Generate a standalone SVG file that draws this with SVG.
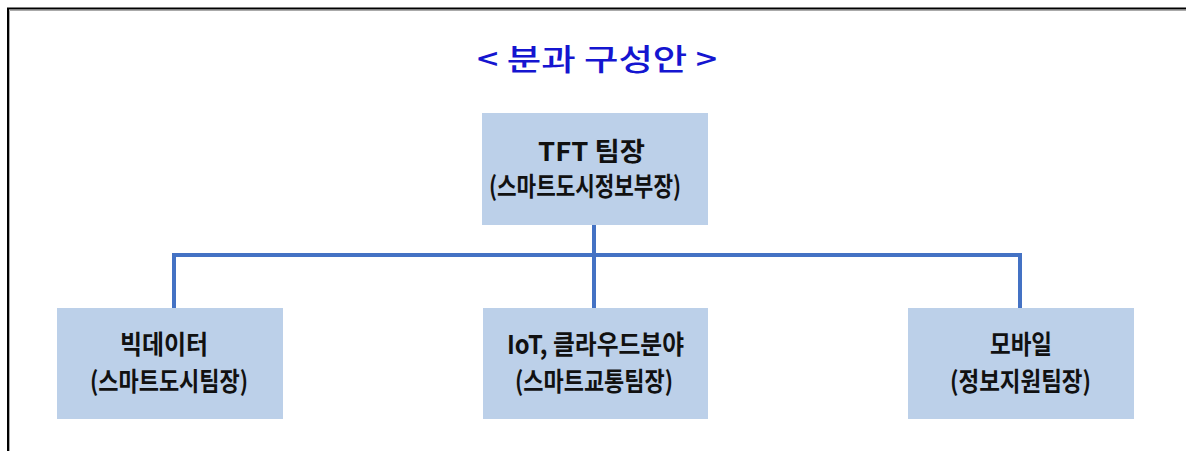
<svg xmlns="http://www.w3.org/2000/svg" width="1186" height="451" viewBox="0 0 1186 451">
<style>
.box{fill:#BCD0E9;}
.t{font-family:"Noto Sans CJK KR","Noto Sans",sans-serif;font-weight:bold;font-size:26px;fill:#111;}
.title{font-family:"Noto Sans CJK KR","Noto Sans",sans-serif;font-size:30px;fill:#1515D0;font-weight:500;}
.conn{stroke:#4472C4;stroke-width:4;fill:none;}
</style>
<rect width="1186" height="451" fill="#fff"/>
<g id="frame">
<path d="M8 451 V8.5 H1186" stroke="#000" stroke-width="2" fill="none"/>
<path d="M9.5 451 V10.5 H1186" stroke="#aaa" stroke-width="1" fill="none"/>
</g>
<g id="title"><text class="title" x="477" y="70" textLength="240" lengthAdjust="spacingAndGlyphs">&lt; 분과 구성안 &gt;</text></g>
<g id="connectors">
<path class="conn" d="M594 225 V308"/>
<path class="conn" d="M174 308 V255 H1020 V308"/>
</g>
<g id="node-tft">
<rect class="box" x="482" y="113" width="226" height="112"/>
<text class="t" x="538" y="161" textLength="107" lengthAdjust="spacingAndGlyphs">TFT 팀장</text>
<text class="t" x="489" y="196" textLength="192" lengthAdjust="spacingAndGlyphs">(스마트도시정보부장)</text>
</g>
<g id="node-bigdata">
<rect class="box" x="57" y="308" width="226" height="111"/>
<text class="t" x="120" y="354" textLength="88" lengthAdjust="spacingAndGlyphs">빅데이터</text>
<text class="t" x="90" y="391" textLength="158" lengthAdjust="spacingAndGlyphs">(스마트도시팀장)</text>
</g>
<g id="node-iot">
<rect class="box" x="483" y="308" width="225" height="111"/>
<text class="t" x="507" y="354" textLength="177" lengthAdjust="spacingAndGlyphs">IoT, 클라우드분야</text>
<text class="t" x="515" y="391" textLength="158" lengthAdjust="spacingAndGlyphs">(스마트교통팀장)</text>
</g>
<g id="node-mobile">
<rect class="box" x="908" y="308" width="226" height="111"/>
<text class="t" x="990" y="354" textLength="62" lengthAdjust="spacingAndGlyphs">모바일</text>
<text class="t" x="950" y="391" textLength="141" lengthAdjust="spacingAndGlyphs">(정보지원팀장)</text>
</g>
</svg>
